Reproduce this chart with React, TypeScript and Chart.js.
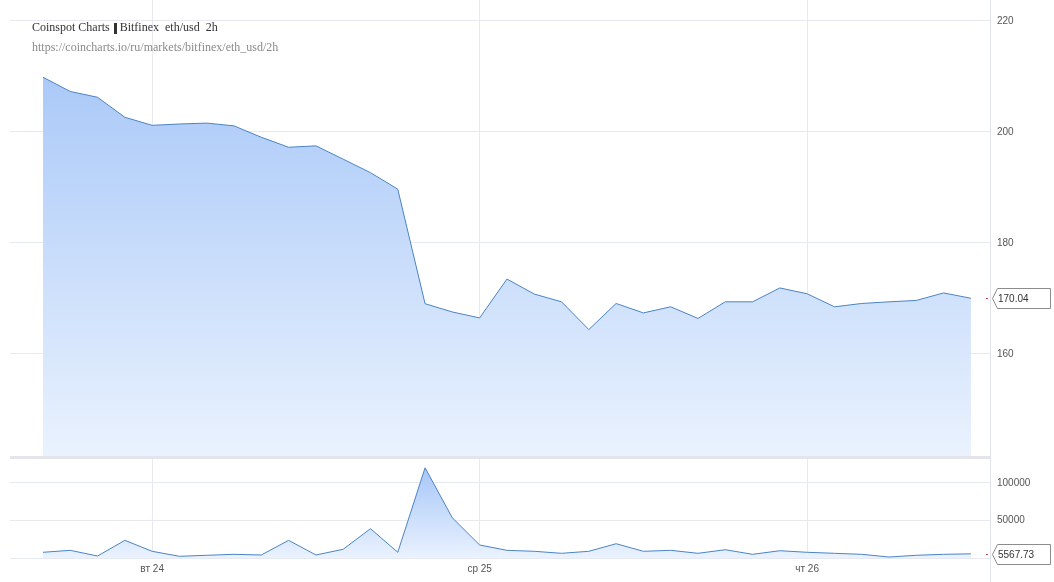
import React, { useEffect, useRef } from "react";
import { Chart, registerables } from "chart.js";

Chart.register(...registerables);

// 2h candles from 23rd 16:00 to 26th 12:00 (close price, volume)
const prices = [
  209.86, 207.3, 206.25, 202.65, 201.2, 201.44, 201.6, 201.1, 199.05, 197.25,
  197.5, 195.1, 192.67, 189.7, 169.06, 167.57, 166.5, 173.5, 170.8, 169.4,
  164.4, 169.1, 167.4, 168.5, 166.4, 169.4, 169.4, 171.9, 170.85, 168.5,
  169.1, 169.4, 169.65, 171.0, 170.04,
];
const volumes = [
  7600, 10200, 2660, 23500, 8900, 2260, 3600, 4900, 4000, 23500,
  4000, 11600, 39000, 7600, 120000, 53400, 17300, 10200, 8900, 6250,
  8900, 19000, 8900, 10200, 6250, 11000, 4900, 9700, 7600, 6250,
  4900, 1300, 3600, 4900, 5567.73,
];
const dayTickIndex = [4, 16, 28];
const dayTickLabels = ["вт 24", "ср 25", "чт 26"];
const priceTicks = [160, 180, 200, 220];
const volumeTicks = [50000, 100000];
const titleMain = "Coinspot Charts";
const titleRest = "Bitfinex  eth/usd  2h";
const titleUrl = "https://coincharts.io/ru/markets/bitfinex/eth_usd/2h";

const W = 1054;
const H = 582;
const GRID = "#e6e9f0";
const AXIS = "#e0e3ea";
const LINE = "#4a84c4";
const TICK_FONT = { family: "'Liberation Sans', Arial, sans-serif", size: 10 };

function vGradient(chart: any, scaleId: string, top: string, bottom: string) {
  const { ctx, chartArea, scales } = chart;
  if (!chartArea) return top;
  const s = scales[scaleId];
  const g = ctx.createLinearGradient(0, s.top, 0, s.bottom);
  g.addColorStop(0, top);
  g.addColorStop(1, bottom);
  return g;
}

function zeroPadding(s: any) {
  s.paddingTop = 0;
  s.paddingBottom = 0;
  s.paddingLeft = 0;
  s.paddingRight = 0;
}

function callout(ctx: CanvasRenderingContext2D, axisX: number, y: number, text: string) {
  const h = 20;
  const tip = axisX + 2;
  const left = axisX + 7;
  const right = W - 4;
  ctx.save();
  ctx.beginPath();
  ctx.moveTo(tip + 0.5, Math.round(y) + 0.5);
  ctx.lineTo(left + 0.5, Math.round(y - h / 2) + 0.5);
  ctx.lineTo(right + 0.5, Math.round(y - h / 2) + 0.5);
  ctx.lineTo(right + 0.5, Math.round(y + h / 2) + 0.5);
  ctx.lineTo(left + 0.5, Math.round(y + h / 2) + 0.5);
  ctx.closePath();
  ctx.fillStyle = "#ffffff";
  ctx.fill();
  ctx.strokeStyle = "#8c8c8c";
  ctx.lineWidth = 1;
  ctx.stroke();
  ctx.fillStyle = "#d04040";
  ctx.fillRect(axisX - 4, Math.round(y), 2, 1);
  ctx.fillStyle = "#333333";
  ctx.font = "10px 'Liberation Sans', Arial, sans-serif";
  ctx.textBaseline = "middle";
  ctx.textAlign = "left";
  ctx.fillText(text, left + 1, Math.round(y) + 1);
  ctx.restore();
}

const panelsPlugin = {
  id: "panels",
  afterDatasetsDraw(chart: any) {
    const { ctx, chartArea, scales } = chart;
    const vol = scales.vol;
    ctx.save();
    ctx.fillStyle = "#e3e5eb";
    ctx.fillRect(chartArea.left, Math.round(vol.top), chartArea.right - chartArea.left, 3);
    ctx.restore();
  },
  afterDraw(chart: any) {
    const { ctx, chartArea, scales } = chart;
    ctx.save();
    ctx.strokeStyle = AXIS;
    ctx.lineWidth = 1;
    ctx.beginPath();
    ctx.moveTo(Math.round(chartArea.right) + 0.5, chartArea.bottom);
    ctx.lineTo(Math.round(chartArea.right) + 0.5, H);
    ctx.stroke();
    ctx.restore();
    const lp = prices[prices.length - 1];
    const lv = volumes[volumes.length - 1];
    callout(ctx, chartArea.right, scales.price.getPixelForValue(lp), lp.toFixed(2));
    callout(ctx, chartArea.right, scales.vol.getPixelForValue(lv), lv.toFixed(2));
  },
};

export default function App() {
  const canvasRef = useRef<HTMLCanvasElement | null>(null);

  useEffect(() => {
    document.body.style.margin = "0";
    const canvas = canvasRef.current;
    if (!canvas) return;
    const chart = new Chart(canvas, {
      type: "line",
      data: {
        datasets: [
          {
            label: "price",
            data: prices.map((v, i) => ({ x: i, y: v })),
            yAxisID: "price",
            borderColor: LINE,
            borderWidth: 1,
            pointRadius: 0,
            tension: 0,
            fill: "start",
            backgroundColor: (c: any) =>
              vGradient(c.chart, "price", "rgba(158,193,247,1)", "rgba(234,242,254,1)"),
          },
          {
            label: "volume",
            data: volumes.map((v, i) => ({ x: i, y: v })),
            yAxisID: "vol",
            borderColor: LINE,
            borderWidth: 1,
            pointRadius: 0,
            tension: 0,
            fill: "start",
            backgroundColor: (c: any) =>
              vGradient(c.chart, "vol", "rgba(158,193,247,1)", "rgba(234,242,254,1)"),
          },
        ],
      },
      options: {
        animation: false,
        responsive: false,
        maintainAspectRatio: false,
        devicePixelRatio: 1,
        layout: { autoPadding: false, padding: { left: 10, top: 0, right: 0, bottom: 0 } },
        plugins: {
          legend: { display: false },
          tooltip: { enabled: false },
          title: { display: false },
        },
        scales: {
          x: {
            type: "linear",
            min: -1.209,
            max: 34.70,
            afterBuildTicks: (s: any) => {
              s.ticks = dayTickIndex.map((v) => ({ value: v }));
            },
            afterFit: (s: any) => {
              s.height = 24;
              zeroPadding(s);
            },
            ticks: {
              autoSkip: false,
              maxRotation: 0,
              padding: 5,
              color: "#555555",
              font: TICK_FONT,
              callback: (_v: any, i: number) => dayTickLabels[i],
            },
            grid: { color: GRID, drawTicks: false },
            border: { display: true, color: GRID },
          },
          price: {
            type: "linear",
            position: "right",
            stack: "panes",
            stackWeight: 456,
            min: 141.62,
            max: 223.78,
            afterBuildTicks: (s: any) => {
              s.ticks = priceTicks.map((v) => ({ value: v }));
            },
            afterFit: (s: any) => {
              s.width = 64;
              zeroPadding(s);
            },
            ticks: {
              padding: 7,
              color: "#555555",
              font: TICK_FONT,
              callback: (v: any) => String(v),
            },
            grid: { color: GRID, drawTicks: false },
            border: { display: true, color: AXIS },
          },
          vol: {
            type: "linear",
            position: "right",
            stack: "panes",
            stackWeight: 102,
            min: 0,
            max: 135660,
            afterBuildTicks: (s: any) => {
              s.ticks = volumeTicks.map((v) => ({ value: v }));
            },
            afterFit: (s: any) => {
              s.width = 64;
              zeroPadding(s);
            },
            ticks: {
              padding: 7,
              color: "#555555",
              font: TICK_FONT,
              callback: (v: any) => String(v),
            },
            grid: { color: GRID, drawTicks: false },
            border: { display: true, color: AXIS },
          },
        },
      } as any,
      plugins: [panelsPlugin],
    });
    return () => chart.destroy();
  }, []);

  return (
    <div style={{ position: "relative", width: W, height: H, background: "#ffffff" }}>
      <canvas ref={canvasRef} width={W} height={H} style={{ display: "block" }} />
      <div
        style={{
          position: "absolute",
          left: 32,
          top: 17,
          fontFamily: "'Liberation Serif', 'Times New Roman', serif",
          fontSize: 12,
          lineHeight: "20px",
          whiteSpace: "pre",
          pointerEvents: "none",
        }}
      >
        <div style={{ color: "#333333" }}>
          {titleMain}
          <span
            style={{
              display: "inline-block",
              width: 3,
              height: 11,
              background: "#333333",
              verticalAlign: "-3px",
              margin: "0 3px 0 4px",
            }}
          />
          {titleRest}
        </div>
        <div style={{ color: "#8a8a8a" }}>{titleUrl}</div>
      </div>
    </div>
  );
}
